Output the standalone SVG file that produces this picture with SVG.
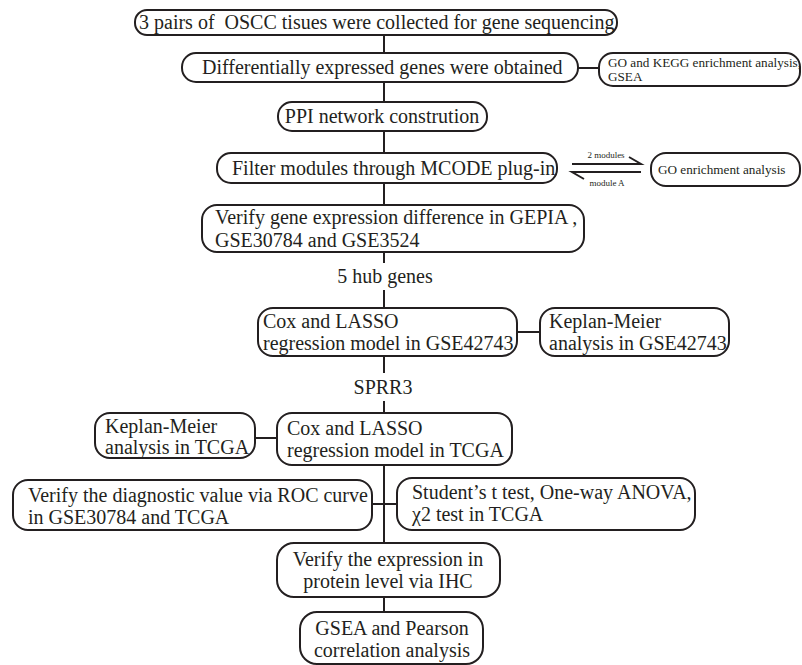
<svg xmlns="http://www.w3.org/2000/svg" width="802" height="665" viewBox="0 0 802 665">
<style>
.b{fill:#fff;stroke:#231f20;stroke-width:2}
.l{stroke:#231f20;stroke-width:2;fill:none}
.t{font-family:"Liberation Serif","Times New Roman",serif;font-size:20px;fill:#231f20}
.s{font-family:"Liberation Serif","Times New Roman",serif;font-size:13.2px;fill:#231f20}
.x{font-family:"Liberation Serif","Times New Roman",serif;font-size:9px;fill:#231f20}
</style>
<rect width="802" height="665" fill="#fff"/>
<g id="connectors">
<path class="l" d="M384 35V53M384 82V102M384 131V153M384 183V205M384 252V263M384 290V308M384 356V373M384 401V413M384 465V543M384 597V612"/>
<path class="l" d="M578 68H599M517 332H540M255 438H277M372 504H397"/>
<path class="l" d="M572 164H641L629 157M641 172H572L584 179"/>
<text class="x" x="606" y="158" text-anchor="middle">2 modules</text>
<text class="x" x="607" y="186" text-anchor="middle">module A</text>
</g>
<g id="n1"><rect class="b" x="135" y="10" width="482" height="25" rx="12"/><text class="t" x="139" y="29" style="white-space:pre">3 pairs of  OSCC tisues were collected for gene sequencing</text></g>
<g id="n2"><rect class="b" x="182" y="53" width="396" height="29" rx="14"/><text class="t" x="202" y="74">Differentially expressed genes were obtained</text></g>
<g id="n3"><rect class="b" x="599" y="53" width="201" height="33" rx="14"/><text class="s" x="608" y="67">GO and KEGG enrichment analysis,</text><text class="s" x="608" y="81">GSEA</text></g>
<g id="n4"><rect class="b" x="278" y="102" width="209" height="29" rx="14"/><text class="t" x="382" y="123" text-anchor="middle">PPI network constrution</text></g>
<g id="n5"><rect class="b" x="217" y="153" width="340" height="30" rx="14"/><text class="t" x="232" y="175">Filter modules through MCODE plug-in</text></g>
<g id="n6"><rect class="b" x="651" y="153" width="149" height="33" rx="15"/><text class="s" x="658" y="174">GO enrichment analysis</text></g>
<g id="n7"><rect class="b" x="202" y="205" width="382" height="47" rx="15"/><text class="t" x="215" y="224">Verify gene expression difference in GEPIA ,</text><text class="t" x="215" y="247">GSE30784 and GSE3524</text></g>
<g id="n8"><text class="t" x="385" y="283" text-anchor="middle">5 hub genes</text></g>
<g id="n9"><rect class="b" x="258" y="308" width="259" height="48" rx="15"/><text class="t" x="263" y="328">Cox and LASSO</text><text class="t" x="263" y="350">regression model in GSE42743</text></g>
<g id="n10"><rect class="b" x="540" y="308" width="189" height="48" rx="15"/><text class="t" x="549" y="328">Keplan-Meier</text><text class="t" x="549" y="350">analysis in GSE42743</text></g>
<g id="n11"><text class="t" x="383" y="394" text-anchor="middle">SPRR3</text></g>
<g id="n12"><rect class="b" x="277" y="413" width="235" height="52" rx="15"/><text class="t" x="287" y="435">Cox and LASSO</text><text class="t" x="287" y="457">regression model in TCGA</text></g>
<g id="n13"><rect class="b" x="95" y="413" width="160" height="45" rx="15"/><text class="t" x="105" y="433">Keplan-Meier</text><text class="t" x="105" y="454">analysis in TCGA</text></g>
<g id="n14"><rect class="b" x="13" y="480" width="359" height="50" rx="15"/><text class="t" x="28" y="502">Verify the diagnostic value via ROC curve</text><text class="t" x="28" y="524">in GSE30784 and TCGA</text></g>
<g id="n15"><rect class="b" x="397" y="478" width="298" height="52" rx="15"/><text class="t" x="412" y="499">Student’s t test, One-way ANOVA,</text><text class="t" x="412" y="521">χ2 test in TCGA</text></g>
<g id="n16"><rect class="b" x="277" y="543" width="223" height="54" rx="17"/><text class="t" x="388" y="566" text-anchor="middle">Verify the expression in</text><text class="t" x="388" y="588" text-anchor="middle">protein level via IHC</text></g>
<g id="n17"><rect class="b" x="300" y="612" width="183" height="52" rx="17"/><text class="t" x="392" y="635" text-anchor="middle">GSEA and Pearson</text><text class="t" x="392" y="657" text-anchor="middle">correlation analysis</text></g>
</svg>
